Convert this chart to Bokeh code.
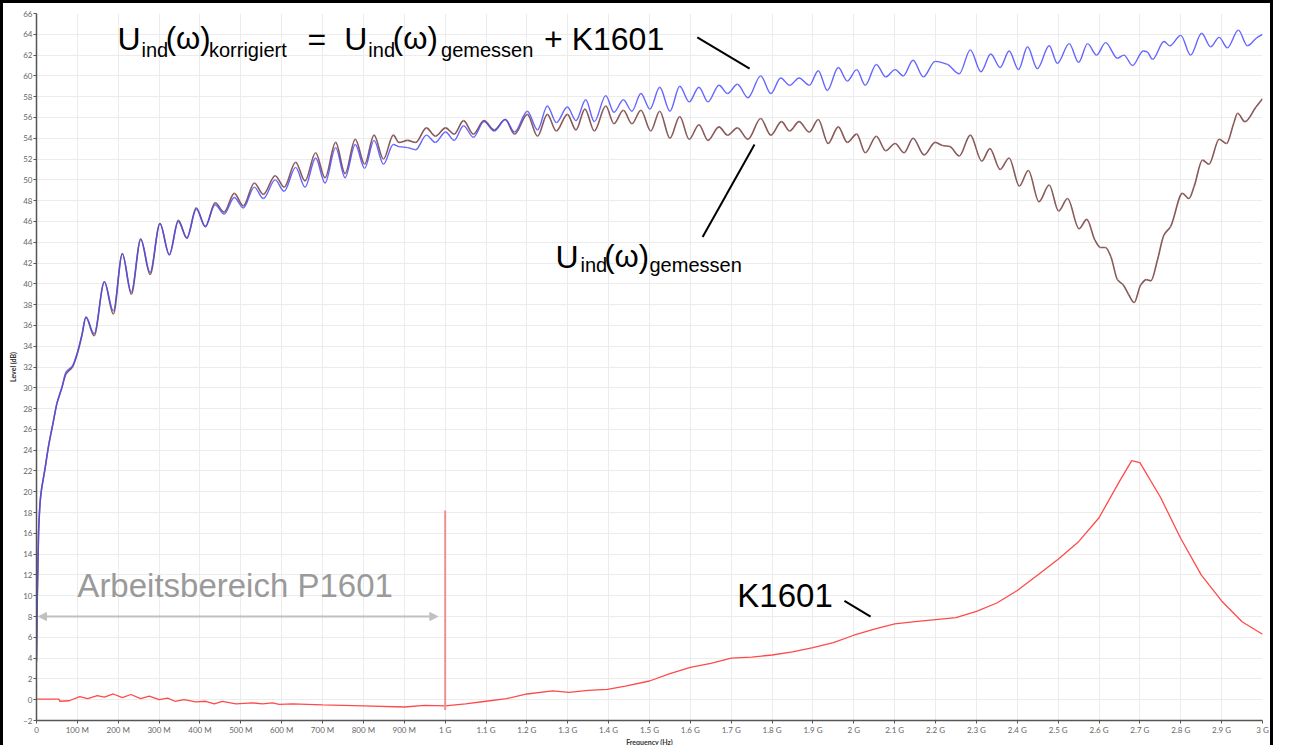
import numpy as np
from bokeh.plotting import figure
from bokeh.models import Range1d, FixedTicker, Label, Arrow, NormalHead
from bokeh.embed import file_html
from bokeh.resources import INLINE

# ---------------- data ----------------
freq_korr_mhz = [0, 2, 5, 10, 20, 30, 40, 50, 62, 72, 88, 100, 111, 121, 141, 166, 188, 210, 232, 255,
                 278, 302, 325, 347, 368, 391, 413, 437, 459, 484, 506, 533, 555, 584, 606, 634, 657,
                 683, 706, 732, 755, 780, 803, 826, 849, 873, 887, 908, 928, 954, 976, 1001, 1022,
                 1045, 1069, 1095, 1120, 1147, 1170, 1201, 1226, 1250, 1272, 1299, 1320, 1344, 1365,
                 1393, 1413, 1436, 1457, 1479, 1501, 1525, 1550, 1574, 1597, 1621, 1643, 1670, 1691,
                 1715, 1741, 1772, 1797, 1821, 1843, 1866, 1891, 1913, 1935, 1962, 1984, 2007, 2028,
                 2055, 2078, 2101, 2121, 2145, 2170, 2199, 2229, 2258, 2285, 2311, 2335, 2358, 2380,
                 2403, 2425, 2449, 2478, 2498, 2527, 2550, 2572, 2594, 2616, 2645, 2661, 2682, 2708,
                 2718, 2731, 2759, 2773, 2800, 2824, 2851, 2873, 2894, 2914, 2941, 2963, 2984, 3000]
level_korr_db = [3.7, 10, 16, 19.5, 22, 24.5, 26.5, 28.5, 30, 31.5, 32.1, 33.4, 35.1, 36.8, 35.2, 40.2,
                 37.4, 42.9, 39.2, 44.3, 41.1, 45.8, 42.8, 46.0, 44.4, 47.2, 45.5, 47.6, 46.7, 48.3,
                 47.3, 49.3, 48.2, 50.0, 48.9, 51.2, 49.3, 52.1, 49.7, 53.1, 50.2, 53.4, 51.1, 53.8,
                 51.5, 53.4, 53.2, 53.1, 52.9, 54.3, 53.6, 54.6, 53.8, 55.2, 54.1, 55.6, 54.7, 55.8,
                 54.6, 56.6, 54.8, 57.1, 55.5, 57.0, 55.7, 57.7, 55.6, 58.1, 56.5, 57.7, 56.6, 58.3,
                 56.8, 58.9, 56.6, 59.0, 57.5, 58.9, 57.5, 59.1, 58.3, 59.2, 57.9, 60.0, 58.3, 59.8,
                 59.1, 59.8, 59.1, 60.5, 58.6, 60.8, 59.5, 60.6, 59.1, 61.1, 59.9, 60.6, 60.0, 61.5,
                 59.9, 61.4, 61.1, 60.2, 62.5, 60.4, 62.1, 60.8, 62.4, 60.6, 62.8, 60.7, 62.9, 61.2,
                 63.1, 61.3, 63.1, 62.0, 63.2, 61.7, 62.0, 61.0, 62.4, 62.3, 61.6, 63.3, 62.9, 63.9,
                 62.0, 64.1, 62.8, 63.7, 62.7, 64.4, 62.9, 63.6, 64.0]

freq_gem_mhz = [0, 2, 5, 10, 20, 30, 40, 50, 62, 72, 88, 100, 111, 121, 141, 166, 188, 210, 232, 255,
                278, 302, 325, 347, 368, 391, 413, 437, 459, 484, 506, 533, 555, 584, 606, 634, 657,
                683, 706, 732, 755, 780, 803, 826, 849, 873, 887, 908, 928, 954, 976, 1001, 1022,
                1045, 1069, 1095, 1120, 1147, 1170, 1201, 1226, 1250, 1272, 1299, 1320, 1342, 1365,
                1393, 1413, 1436, 1457, 1479, 1503, 1525, 1550, 1574, 1597, 1621, 1643, 1670, 1691,
                1715, 1741, 1772, 1797, 1823, 1843, 1866, 1891, 1913, 1937, 1962, 1984, 2007, 2028,
                2055, 2078, 2101, 2123, 2145, 2172, 2199, 2217, 2235, 2258, 2285, 2313, 2333, 2358,
                2380, 2405, 2427, 2453, 2478, 2501, 2523, 2551, 2570, 2590, 2603, 2616, 2629, 2645,
                2659, 2672, 2686, 2702, 2716, 2727, 2743, 2759, 2775, 2804, 2820, 2833, 2853, 2869,
                2894, 2912, 2930, 2939, 2957, 2984, 3000]
level_gem_db = [3.7, 10, 16, 19.5, 22, 24.5, 26.5, 28.5, 30, 31.3, 32.0, 33.3, 35.0, 36.8, 35.0, 40.2,
                37.1, 42.9, 39.0, 44.3, 40.9, 45.8, 42.8, 46.1, 44.4, 47.3, 45.5, 47.8, 46.9, 48.7,
                47.5, 49.7, 48.6, 50.4, 49.3, 51.7, 49.9, 52.6, 50.2, 53.6, 50.6, 53.9, 51.5, 54.3,
                52.0, 54.3, 53.6, 53.8, 53.6, 55.0, 54.2, 55.0, 54.4, 55.7, 54.4, 55.7, 54.8, 55.8,
                54.4, 56.3, 54.2, 56.3, 54.7, 56.3, 54.8, 56.8, 54.7, 57.1, 55.4, 56.7, 55.4, 56.7,
                54.7, 56.6, 54.0, 56.1, 53.9, 55.3, 53.8, 55.1, 54.3, 55.0, 53.9, 55.9, 54.3, 55.6,
                54.7, 55.6, 54.6, 55.8, 53.5, 55.1, 53.6, 54.4, 52.6, 54.2, 52.8, 53.5, 52.6, 54.0,
                52.4, 53.6, 53.3, 53.2, 52.3, 54.3, 51.8, 53.0, 51.0, 52.1, 49.4, 50.9, 47.9, 49.5,
                47.0, 48.2, 45.3, 46.2, 44.2, 43.5, 43.5, 42.6, 40.4, 39.9, 39.0, 38.2, 39.9, 40.4,
                40.3, 42.3, 44.7, 45.5, 48.7, 48.2, 49.4, 51.9, 51.5, 53.9, 53.5, 55.5, 56.4, 55.6,
                57.0, 57.8]

freq_k_mhz = [0, 55, 57, 80, 106, 125, 149, 166, 188, 210, 231, 255, 276, 300, 321, 339, 361, 390, 414,
              435, 455, 488, 528, 553, 577, 594, 626, 700, 800, 900, 950, 1000, 1050, 1100, 1150, 1200,
              1263, 1303, 1350, 1397, 1441, 1500, 1550, 1600, 1650, 1700, 1750, 1800, 1850, 1900,
              1950, 2000, 2050, 2100, 2150, 2200, 2250, 2300, 2350, 2400, 2450, 2500, 2550, 2600,
              2650, 2680, 2700, 2750, 2800, 2850, 2900, 2950, 3000]
level_k_db = [0.05, 0.05, -0.15, -0.1, 0.3, 0.1, 0.4, 0.25, 0.55, 0.2, 0.5, 0.1, 0.35, 0.0, 0.15, -0.15,
              0.0, -0.2, -0.15, -0.4, -0.15, -0.4, -0.3, -0.4, -0.3, -0.45, -0.4, -0.5, -0.6, -0.7,
              -0.55, -0.6, -0.4, -0.15, 0.1, 0.55, 0.85, 0.7, 0.9, 1.0, 1.3, 1.8, 2.5, 3.1, 3.5, 4.0,
              4.1, 4.3, 4.6, 5.0, 5.5, 6.2, 6.8, 7.3, 7.5, 7.7, 7.9, 8.5, 9.3, 10.5, 12.0, 13.5, 15.2,
              17.5, 21.0, 23.0, 22.8, 19.5, 15.5, 12.0, 9.5, 7.5, 6.3]

x_tick_hz = [i * 100_000_000 for i in range(31)]
x_tick_labels = ["0", "100 M", "200 M", "300 M", "400 M", "500 M", "600 M", "700 M", "800 M", "900 M",
                 "1 G", "1.1 G", "1.2 G", "1.3 G", "1.4 G", "1.5 G", "1.6 G", "1.7 G", "1.8 G", "1.9 G",
                 "2 G", "2.1 G", "2.2 G", "2.3 G", "2.4 G", "2.5 G", "2.6 G", "2.7 G", "2.8 G", "2.9 G",
                 "3 G"]
y_ticks = list(range(-2, 67, 2))


def smooth_segments(xs, ys):
    """Bezier control points (monotone cubic tangents) so the curve passes through every read point."""
    x = np.asarray(xs, dtype=float)
    y = np.asarray(ys, dtype=float)
    h = np.diff(x)
    d = np.diff(y) / h
    m = np.zeros_like(y)
    m[0] = d[0]
    m[-1] = d[-1]
    for k in range(1, len(x) - 1):
        if d[k - 1] * d[k] <= 0:
            m[k] = 0.0
        else:
            w1 = 2 * h[k] + h[k - 1]
            w2 = h[k] + 2 * h[k - 1]
            m[k] = (w1 + w2) / (w1 / d[k - 1] + w2 / d[k])
    return dict(x0=x[:-1], y0=y[:-1], x1=x[1:], y1=y[1:],
                cx0=x[:-1] + h / 3, cy0=y[:-1] + m[:-1] * h / 3,
                cx1=x[1:] - h / 3, cy1=y[1:] - m[1:] * h / 3)


MHZ = 1e6
GHZ = 1e9

p = figure(width=1273, height=745, output_backend="svg", toolbar_location=None,
           x_range=Range1d(0, 3 * GHZ), y_range=Range1d(-2, 66),
           min_border_left=33, min_border_right=14, min_border_top=10, min_border_bottom=21)
p.styles = {"border-top": "3px solid black", "border-left": "3px solid black",
            "border-right": "3px solid black", "margin-bottom": "-8px"}
p.outline_line_color = None
p.background_fill_color = "white"
p.border_fill_color = "white"

FONT = "Lato"
for ax in (p.xaxis[0], p.yaxis[0]):
    ax.axis_line_color = "#555555"
    ax.axis_line_width = 1.5
    ax.major_tick_line_color = "#555555"
    ax.major_tick_out = 3
    ax.major_tick_in = 0
    ax.minor_tick_line_color = None
    ax.major_label_text_font = FONT
    ax.major_label_text_font_size = "8px"
    ax.major_label_text_color = "#666666"
    ax.major_label_standoff = 1
    ax.axis_label_text_font = FONT
    ax.axis_label_text_font_size = "7px"
    ax.axis_label_text_font_style = "bold"
    ax.axis_label_text_color = "#333333"
    ax.axis_label_standoff = 3

p.xaxis.axis_label_standoff = 0
p.xaxis.ticker = FixedTicker(ticks=x_tick_hz)
p.xaxis.major_label_overrides = {t: lab for t, lab in zip(x_tick_hz, x_tick_labels)}
p.xaxis.axis_label = "Frequency (Hz)"
p.yaxis.ticker = FixedTicker(ticks=y_ticks)
p.yaxis.axis_label = "Level (dB)"

p.xgrid.ticker = FixedTicker(ticks=x_tick_hz)
p.ygrid.ticker = FixedTicker(ticks=y_ticks)
for g in (p.xgrid[0], p.ygrid[0]):
    g.grid_line_color = "#ececec"
    g.grid_line_width = 1

# curves
gem = smooth_segments([f * MHZ for f in freq_gem_mhz], level_gem_db)
korr = smooth_segments([f * MHZ for f in freq_korr_mhz], level_korr_db)
p.bezier(**gem, line_color="#8a5a5a", line_width=1.6)
p.bezier(**korr, line_color="#4a4aff", line_width=1.4, line_alpha=0.85)
p.line([f * MHZ for f in freq_k_mhz], level_k_db, line_color="#ff4a4a", line_width=1.3)

# annotations -------------------------------------------------------
p.segment(x0=[1.0 * GHZ], y0=[-1.0], x1=[1.0 * GHZ], y1=[18.2], line_color="#f29090", line_width=2)
p.add_layout(Arrow(x_start=0.005 * GHZ, y_start=8, x_end=0.982 * GHZ, y_end=8,
                   line_color="#c0c0c0", line_width=2,
                   start=NormalHead(size=8, fill_color="#c0c0c0", line_color="#c0c0c0"),
                   end=NormalHead(size=8, fill_color="#c0c0c0", line_color="#c0c0c0")))
p.add_layout(Label(x=0.100 * GHZ, y=9.2, text="Arbeitsbereich P1601", text_font="Liberation Sans",
                   text_font_size="33px", text_color="#9a9a9a"))

TF = "Liberation Sans"
BIG = "32px"
MID = "31px"
SUB = "20px"


def put(xg, y, txt, size):
    p.add_layout(Label(x=xg * GHZ, y=y, text=txt, text_font=TF, text_font_size=size,
                       text_color="black", text_baseline="alphabetic"))


# formula line
put(0.198, 63.55, "U", BIG)
put(0.257, 62.45, "ind", SUB)
put(0.316, 63.55, "(ω)", MID)
put(0.422, 62.45, "korrigiert", SUB)
put(0.663, 63.55, "=", BIG)
put(0.753, 63.55, "U", BIG)
put(0.812, 62.45, "ind", SUB)
put(0.872, 63.55, "(ω)", MID)
put(0.990, 62.45, "gemessen", SUB)
put(1.242, 63.55, "+ K1601", BIG)
# measured label
put(1.270, 42.6, "U", BIG)
put(1.331, 41.8, "ind", SUB)
put(1.389, 42.6, "(ω)", MID)
put(1.500, 41.8, "gemessen", SUB)
# K1601 label
put(1.715, 10.0, "K1601", "33px")

p.segment(x0=[1.617 * GHZ, 1.630 * GHZ, 1.977 * GHZ], y0=[63.7, 44.5, 9.5],
          x1=[1.745 * GHZ, 1.757 * GHZ, 2.041 * GHZ], y1=[60.7, 53.4, 8.0],
          line_color="black", line_width=2)

open("out.html", "w").write(file_html(p, INLINE))
